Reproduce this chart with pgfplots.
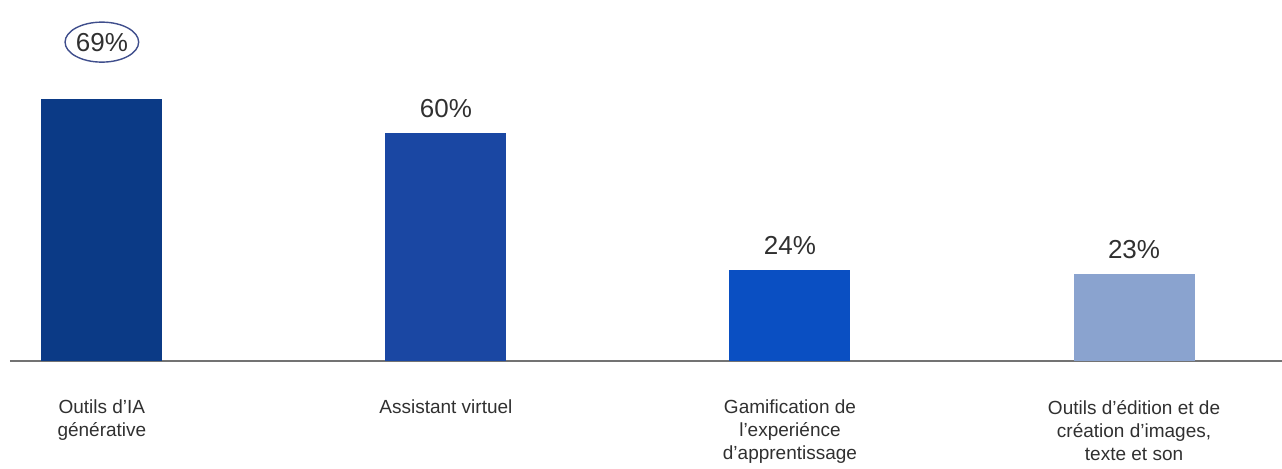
\documentclass[border=0pt]{standalone}
\usepackage{fontspec}
\setmainfont{Liberation Sans}
\usepackage{pgfplots}
\pgfplotsset{compat=1.18}
\usetikzlibrary{shapes.geometric}

\definecolor{barA}{HTML}{0B3A86}
\definecolor{barB}{HTML}{1A47A3}
\definecolor{barC}{HTML}{0A4FC2}
\definecolor{barD}{HTML}{8AA3CF}
\definecolor{txt}{HTML}{303030}
\definecolor{ring}{HTML}{3F4E8C}

\begin{document}
\begin{tikzpicture}
\useasboundingbox (-5pt,-53.5pt) rectangle (636pt,180.5pt);
\begin{axis}[
  at={(0,0)}, anchor=south west,
  scale only axis, width=636pt, height=180.5pt,
  xmin=-0.267, xmax=3.43, ymin=0, ymax=95,
  axis x line=bottom, hide y axis,
  axis line style={-, draw=black!55, line width=1pt},
  xtick={0,1,2,3},
  xticklabels={{Outils d’IA\\générative},{Assistant virtuel},{Gamification de\\l’experiénce\\d’apprentissage},{Outils d’édition et de\\création d’images,\\texte et son}},
  xticklabel style={align=center, anchor=north, yshift=-16pt, text=txt,
    font=\fontsize{9.5}{11.5}\selectfont},
  major tick length=0pt,
  /pgf/number format/assume math mode=true,
  ybar, bar width=60.5pt, bar shift=0pt,
  nodes near coords={\pgfmathprintnumber{\pgfplotspointmeta}\%},
  nodes near coords style={font=\fontsize{13}{15}\selectfont, text=txt, anchor=south, yshift=4pt},
  clip=false,
]
\addplot[fill=barA, draw=none,
  nodes near coords style={shape=ellipse, draw=ring, line width=0.7pt,
    minimum width=35pt, minimum height=20pt, inner sep=0pt, yshift=14pt}]
  coordinates {(0,69)};
\addplot[fill=barB, draw=none] coordinates {(1,60)};
\addplot[fill=barC, draw=none] coordinates {(2,24)};
\addplot[fill=barD, draw=none] coordinates {(3,23)};
\end{axis}
\end{tikzpicture}
\end{document}
